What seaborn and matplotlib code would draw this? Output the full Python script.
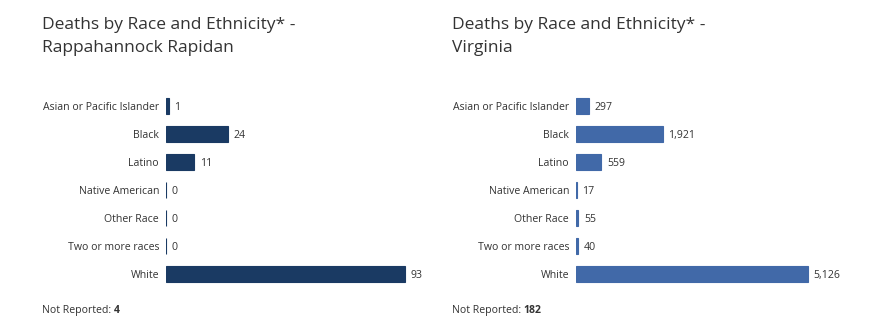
import matplotlib
matplotlib.use("Agg")
import matplotlib.pyplot as plt
import seaborn as sns
import pandas as pd

categories = ["Asian or Pacific Islander", "Black", "Latino", "Native American",
              "Other Race", "Two or more races", "White"]
region_deaths = [1, 24, 11, 0, 0, 0, 93]
virginia_deaths = [297, 1921, 559, 17, 55, 40, 5126]
region_not_reported = 4
virginia_not_reported = 182
titles = ["Deaths by Race and Ethnicity* -\nRappahannock Rapidan",
          "Deaths by Race and Ethnicity* -\nVirginia"]

sns.set_theme(style="white")
plt.rcParams['font.family'] = ['Open Sans', 'DejaVu Sans']

W, H = 884, 330
fig = plt.figure(figsize=(W / 100, H / 100), dpi=100)

panels = [
    dict(values=region_deaths, nr=region_not_reported, title=titles[0],
         color="#1a3a63", x0=166, xend=405, xleft=42),
    dict(values=virginia_deaths, nr=virginia_not_reported, title=titles[1],
         color="#4169a8", x0=576, xend=808, xleft=452),
]

top_px, bot_px = 92, 288
axw_px = 260
text_color = "#333333"

for p in panels:
    ax = fig.add_axes([p["x0"] / W, 1 - bot_px / H, axw_px / W, (bot_px - top_px) / H])
    df = pd.DataFrame({"cat": categories, "val": p["values"]})
    sns.barplot(data=df, x="val", y="cat", orient="h", color=p["color"],
                saturation=1, width=0.6, edgecolor=p["color"], linewidth=0.8, ax=ax)
    vmax = max(p["values"])
    ax.set_xlim(0, vmax * axw_px / (p["xend"] - p["x0"]))
    ax.set_ylim(len(categories) - 0.5, -0.5)
    for s in ax.spines.values():
        s.set_visible(False)
    ax.set_xticks([])
    ax.set_xlabel("")
    ax.set_ylabel("")
    ax.tick_params(axis="y", length=0, pad=5, labelsize=7.6, labelcolor=text_color)
    for i, v in enumerate(p["values"]):
        ax.annotate(f"{v:,}", xy=(v, i), xytext=(4, 0), textcoords="offset points",
                    va="center_baseline", ha="left", fontsize=7.6, color=text_color)
    fig.text(p["xleft"] / W, 1 - 17 / H, p["title"], ha="left", va="top",
             fontsize=12.5, color=text_color, linespacing=1.55)
    t = fig.text(p["xleft"] / W, 1 - 309 / H, "Not Reported:", ha="left",
                 va="center_baseline", fontsize=7.6, color=text_color)
    plt.annotate(f"{p['nr']:,}", xy=(1, 0), xycoords=t, xytext=(1.8, 0),
                 textcoords="offset points", ha="left", va="bottom",
                 fontsize=7.6, fontweight="bold", color=text_color,
                 annotation_clip=False)

fig.savefig("out.png", dpi=100, facecolor="white")
